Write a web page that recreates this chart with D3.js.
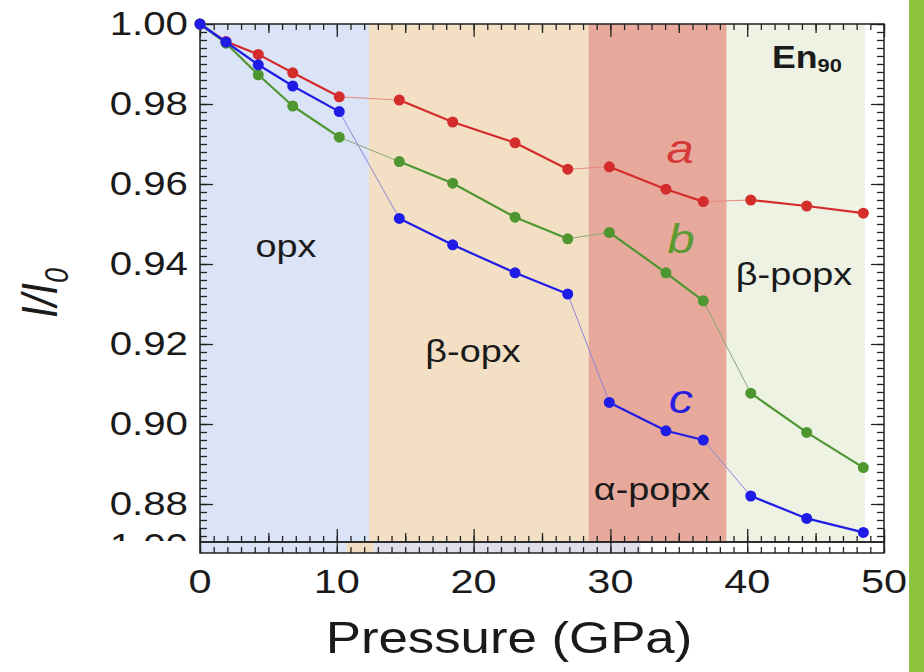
<!DOCTYPE html>
<html>
<head>
<meta charset="utf-8">
<script src="https://cdn.jsdelivr.net/npm/d3@7"></script>
<style>
  body { margin: 0; background: #fff; }
  svg { display: block; }
  text { font-family: "Liberation Sans", Arial, sans-serif; fill: #1a1a1a; }
</style>
</head>
<body>
<svg id="chart" width="924" height="672"></svg>
<script>
// pressure (GPa) shared by the three curves
const pressure = [0, 1.9, 4.26, 6.78, 10.18, 14.57, 18.47, 23.03, 26.88, 29.92, 34.06, 36.79, 40.26, 44.35, 48.49];
const seriesA = [1.000, 0.9956, 0.9924, 0.9878, 0.9818, 0.9810, 0.9755, 0.9703, 0.9637, 0.9643, 0.9587, 0.9556, 0.9560, 0.9545, 0.9527];
const seriesB = [1.000, 0.9952, 0.9873, 0.9795, 0.9717, 0.9656, 0.9602, 0.9517, 0.9463, 0.9479, 0.9378, 0.9308, 0.9077, 0.8979, 0.8891];
const seriesC = [1.000, 0.9955, 0.9898, 0.9845, 0.9781, 0.9514, 0.9448, 0.9378, 0.9325, 0.9054, 0.8983, 0.8960, 0.8820, 0.8764, 0.8729];
// phase of each point (index into phaseNames)
const pointPhase = [0, 0, 0, 0, 0, 1, 1, 1, 1, 2, 2, 2, 3, 3, 3];
const phaseNames = ['opx', 'β-opx', 'α-popx', 'β-popx'];
const phaseEdges = [0, 12.35, 28.4, 38.5, 48.6];
// strip of the panel below (only its top edge shows)
const lowerEdges = [0, 10.7, 12.7, 32.2];
const yTicks = [0.88, 0.90, 0.92, 0.94, 0.96, 0.98, 1.00];
const xTicks = [0, 10, 20, 30, 40, 50];

const svg = d3.select('#chart');
const plotL = 200, plotR = 884, plotT = 24, plotB = 542, stripB = 553;
const SX = 1.22; // the picture is stretched sideways

const x = d3.scaleLinear().domain([0, 50]).range([plotL, plotR]);
const y = d3.scaleLinear().domain([0.8705, 1]).range([plotB, plotT]);

// green bar on the right edge
svg.append('rect').attr('x', 909).attr('y', 0).attr('width', 15).attr('height', 672).attr('fill', '#8cc43f');

// phase backgrounds
const phaseFill = ['#dbe3f6', '#f3dfc4', '#e6a99c', '#edf2e3'];
svg.append('g').selectAll('rect')
  .data(phaseNames)
  .join('rect')
  .attr('x', (d, i) => x(phaseEdges[i]))
  .attr('y', plotT)
  .attr('width', (d, i) => x(phaseEdges[i + 1]) - x(phaseEdges[i]))
  .attr('height', plotB - plotT)
  .attr('fill', (d, i) => phaseFill[i]);

// lower strip
const lowerFill = ['#dbe3f6', '#f0dcc0', '#e1deeb'];
svg.append('g').selectAll('rect')
  .data(lowerFill)
  .join('rect')
  .attr('x', (d, i) => x(lowerEdges[i]))
  .attr('y', plotB)
  .attr('width', (d, i) => x(lowerEdges[i + 1]) - x(lowerEdges[i]))
  .attr('height', stripB - plotB)
  .attr('fill', (d) => d);

// ticks
const yMinor = d3.range(436, 501).map((k) => k / 500);
const xMinor = d3.range(0, 51);
const xMid = [5, 15, 25, 35, 45];

function tickAxis(axis, tf, values, size) {
  const g = svg.append('g').attr('transform', tf)
    .call(axis.tickValues(values).tickSize(size).tickSizeOuter(0).tickFormat(''));
  g.select('.domain').remove();
  g.selectAll('line').attr('stroke', '#222').attr('stroke-width', 1.3);
}
tickAxis(d3.axisLeft(y), `translate(${plotL},0)`, yMinor, -7);
tickAxis(d3.axisLeft(y), `translate(${plotL},0)`, yTicks, -13);
tickAxis(d3.axisRight(y), `translate(${plotR},0)`, yMinor, -7);
tickAxis(d3.axisRight(y), `translate(${plotR},0)`, yTicks, -13);
tickAxis(d3.axisTop(x), `translate(0,${plotT})`, xMinor, -6);
tickAxis(d3.axisTop(x), `translate(0,${plotT})`, xMid, -9);
tickAxis(d3.axisTop(x), `translate(0,${plotT})`, xTicks, -13);
tickAxis(d3.axisBottom(x), `translate(0,${plotB})`, xMinor, -6);
tickAxis(d3.axisBottom(x), `translate(0,${plotB})`, xMid, -9);
tickAxis(d3.axisBottom(x), `translate(0,${plotB})`, xTicks, -13);
tickAxis(d3.axisBottom(x), `translate(0,${stripB})`, xMinor, -6);
tickAxis(d3.axisBottom(x), `translate(0,${stripB})`, xTicks, -11);

// frames
svg.append('rect').attr('x', plotL).attr('y', plotT).attr('width', plotR - plotL).attr('height', plotB - plotT)
  .attr('fill', 'none').attr('stroke', '#222').attr('stroke-width', 1.5);
svg.append('rect').attr('x', plotL).attr('y', plotB).attr('width', plotR - plotL).attr('height', stripB - plotB)
  .attr('fill', 'none').attr('stroke', '#222').attr('stroke-width', 1.5);

// curves
const series = [
  {name: 'a', values: seriesA, color: '#d42b2b', thin: '#e58a80'},
  {name: 'b', values: seriesB, color: '#4e9630', thin: '#8aa870'},
  {name: 'c', values: seriesC, color: '#1f1ce6', thin: '#8e86d8'},
];
const line = d3.line().x((d) => x(d[0])).y((d) => y(d[1]));

series.forEach((s) => {
  const g = svg.append('g').attr('class', `series-${s.name}`);
  const pts = pressure.map((p, i) => [p, s.values[i]]);
  for (let i = 0; i < pts.length - 1; i++) {
    const same = pointPhase[i] === pointPhase[i + 1];
    g.append('path')
      .attr('d', line([pts[i], pts[i + 1]]))
      .attr('fill', 'none')
      .attr('stroke', same ? s.color : s.thin)
      .attr('stroke-width', same ? 2.2 : 1);
  }
  g.selectAll('circle')
    .data(pts)
    .join('circle')
    .attr('cx', (d) => x(d[0]))
    .attr('cy', (d) => y(d[1]))
    .attr('r', 5.5)
    .attr('fill', s.color);
});

// stretched text helper
function label(px, py, str, opts = {}) {
  const parent = opts.parent || svg;
  const t = parent.append('text')
    .attr('transform', `translate(${px},${py}) scale(${opts.sx || SX},1)`)
    .attr('text-anchor', opts.anchor || 'middle')
    .attr('font-size', opts.size || 32)
    .text(str);
  if (opts.fill) t.style('fill', opts.fill);
  if (opts.italic) t.attr('font-style', 'italic');
  if (opts.bold) t.attr('font-weight', 'bold');
  if (opts.baseline) t.attr('dominant-baseline', opts.baseline);
  return t;
}

// tick labels
yTicks.forEach((v) => label(188, y(v), d3.format('.2f')(v), {anchor: 'end', size: 33, baseline: 'central'}));
xTicks.forEach((v) => label(x(v), 593, d3.format('d')(v), {size: 34}));

// clipped "1.00" from the panel below
svg.append('clipPath').attr('id', 'cut').append('rect').attr('x', 0).attr('y', 0).attr('width', 199).attr('height', 541);
const cutG = svg.append('g').attr('clip-path', 'url(#cut)');
label(188, 546, '1.00', {anchor: 'end', size: 33, baseline: 'central', parent: cutG});

// axis titles
label(509, 653, 'Pressure (GPa)', {size: 44, sx: 1.2});
const yl = svg.append('text')
  .attr('transform', `translate(57,293) scale(1.2,1) rotate(-90)`)
  .attr('text-anchor', 'middle')
  .attr('font-size', 42)
  .attr('font-style', 'italic');
yl.append('tspan').text('I/I');
yl.append('tspan').attr('font-size', 27).attr('dy', 9).text('0');

// phase labels
const phaseLabelPos = [[286, 257], [473, 362], [652, 500], [794, 285]];
phaseNames.forEach((n, i) => label(phaseLabelPos[i][0], phaseLabelPos[i][1], n, {size: 31}));

// curve labels
label(680, 163, 'a', {size: 40, italic: true, fill: '#d63838'});
label(681, 253, 'b', {size: 40, italic: true, fill: '#5a9a30'});
label(681, 413, 'c', {size: 40, italic: true, fill: '#2b1de0'});

// En90
const en = svg.append('text')
  .attr('transform', `translate(772,68) scale(1.15,1)`)
  .attr('font-size', 31)
  .attr('font-weight', 'bold');
en.append('tspan').text('En');
en.append('tspan').attr('font-size', 19).attr('dy', 4).text('90');
</script>
</body>
</html>
